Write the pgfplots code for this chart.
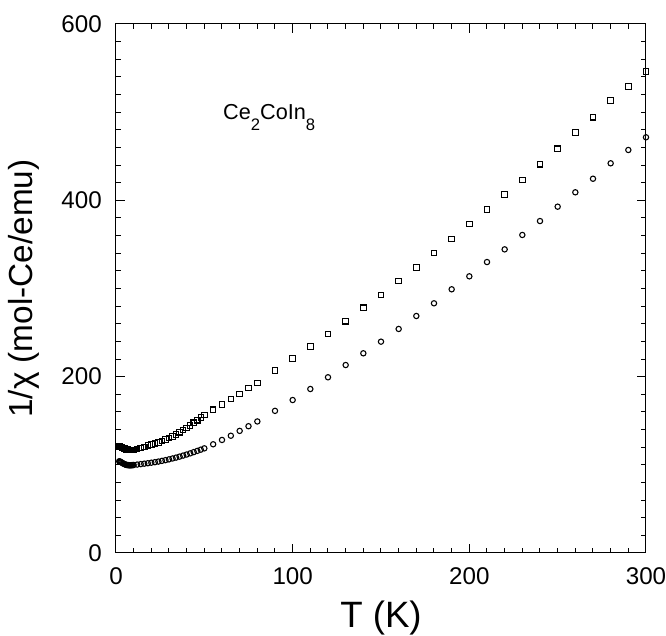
\documentclass[border=0pt]{standalone}
\usepackage{fontspec}
\setmainfont{Liberation Sans}
\usepackage{pgfplots}
\pgfplotsset{compat=1.18}

% square symbols (upper set)
\pgfplotstableread{
T chi
1.8 120.5
2.2 120.6
2.6 120.4
3.0 120.2
3.5 119.8
4.0 119.3
4.5 118.8
5.0 118.3
5.5 117.9
6.0 117.5
6.5 117.2
7.0 117.0
7.5 116.8
8.0 116.7
8.5 116.7
9.0 116.8
9.5 116.9
10 117.0
12 117.8
14 119.0
16 120.4
18 121.8
20 123.0
22 124.2
24 125.4
26 126.8
28 128.5
30 130.3
32 132.3
34 134.5
36 136.9
38 139.4
40 142.0
42 144.8
44 147.7
46 150.6
48 153.6
50 156.6
55 162.5
60 168.5
65 174.5
70 180.5
75 187.0
80 193.0
90 206.8
100 220.4
110 234.0
120 248.4
130 262.8
140 278.2
150 292.6
160 308.5
170 324.0
180 340.3
190 356.1
200 373.1
210 389.4
220 406.6
230 423.2
240 440.9
250 458.5
260 477.1
270 494.2
280 513.0
290 529.3
300 545.9
}\sqdata

% circle symbols (lower set)
\pgfplotstableread{
T chi
1.8 104.0
2.2 103.8
2.6 103.3
3.0 102.8
3.5 102.2
4.0 101.6
4.5 101.1
5.0 100.6
5.5 100.2
6.0 99.9
6.5 99.7
7.0 99.6
7.5 99.5
8.0 99.5
8.5 99.5
9.0 99.6
9.5 99.7
10 99.8
12 100.3
14 100.8
16 101.3
18 101.8
20 102.4
22 103.0
24 103.7
26 104.5
28 105.3
30 106.2
32 107.2
34 108.2
36 109.3
38 110.5
40 111.7
42 113.0
44 114.4
46 115.8
48 117.2
50 118.7
55 123.3
60 128.2
65 133.0
70 138.5
75 143.8
80 149.2
90 161.2
100 173.5
110 186.0
120 199.3
130 213.2
140 226.5
150 239.7
160 254.1
170 268.8
180 283.2
190 299.1
200 313.8
210 330.0
220 344.4
230 360.7
240 376.5
250 392.8
260 409.1
270 424.5
280 442.0
290 457.1
300 471.5
}\circdata

\begin{document}
\begin{tikzpicture}
\begin{axis}[
    scale only axis,
    width=318pt, height=317.4pt,
    xmin=0, xmax=300, ymin=0, ymax=600,
    xtick={0,100,200,300}, ytick={0,200,400,600},
    minor x tick num=9, minor y tick num=9,
    tick align=inside,
    major tick length=5.4pt, minor tick length=3pt,
    axis line style={line width=0.6pt},
    every tick/.style={line width=0.6pt, black},
    /pgf/number format/assume math mode=true,
    ticklabel style={font=\fontsize{14.5}{15}\selectfont},
    xticklabel style={yshift=-5pt},
    yticklabel style={xshift=-5pt},
    xlabel={T (K)},
    ylabel={1/χ (mol-Ce/emu)},
    every axis x label/.style={at={([yshift=-44.5pt]axis description cs:0.5,0)}, anchor=base,
        inner sep=0pt, font=\fontsize{22}{24}\selectfont},
    every axis y label/.style={at={([xshift=-50pt]axis description cs:0,0.5)}, rotate=90, anchor=base,
        inner sep=0pt, font=\fontsize{20}{22}\selectfont},
    clip=false,
]
\addplot[only marks, mark=square, mark size=1.65pt, mark options={line width=0.65pt}] table[x=T, y=chi] {\sqdata};
\addplot[only marks, mark=o, mark size=1.6pt, mark options={line width=0.65pt}] table[x=T, y=chi] {\circdata};
\node[anchor=base west, inner sep=0pt, font=\fontsize{13}{15}\selectfont]
    at (axis cs:60.5,492) {Ce\raisebox{-7pt}{\fontsize{10}{11}\selectfont 2}CoIn\raisebox{-7pt}{\fontsize{10}{11}\selectfont 8}};
\end{axis}
\pgfresetboundingbox
\path ([shift={(-69.6pt,-49.8pt)}]current axis.south west) rectangle ([shift={(12pt,14.4pt)}]current axis.north east);
\end{tikzpicture}
\end{document}
